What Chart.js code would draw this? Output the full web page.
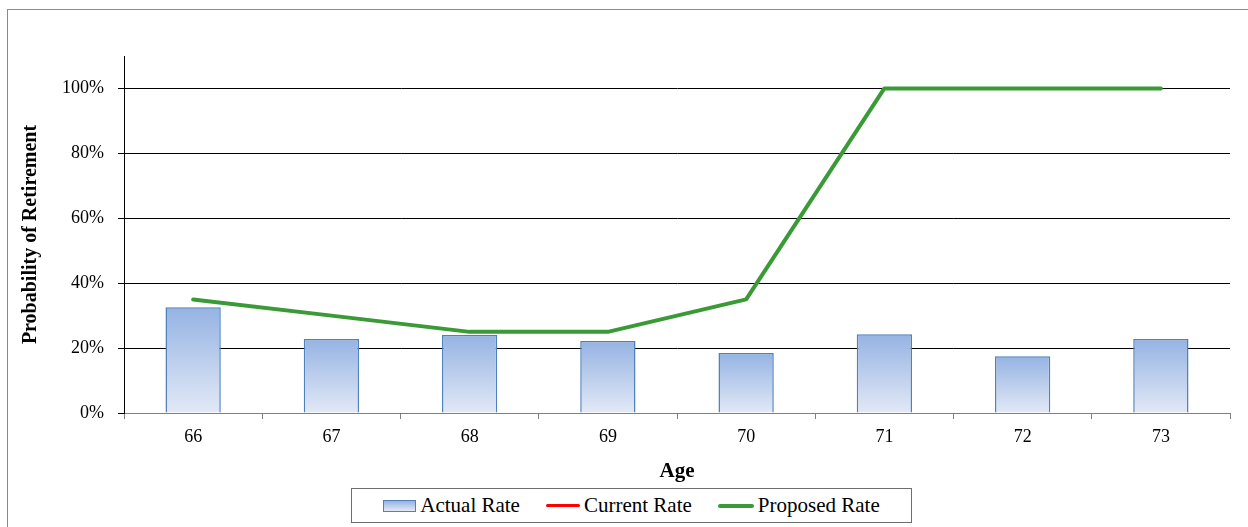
<!DOCTYPE html>
<html>
<head>
<meta charset="utf-8">
<script src="https://cdn.jsdelivr.net/npm/chart.js@4"></script>
<style>
  html, body { margin: 0; padding: 0; background: #fff; overflow: hidden; }
  #wrap { position: relative; width: 1248px; height: 527px; }
  #frame {
    position: absolute; left: 7px; top: 9px; width: 1300px; height: 600px;
    border: 1px solid #8a8a8a; box-sizing: border-box;
  }
  #chart { position: absolute; left: 0; top: 0; }
  #legend {
    position: absolute; left: 351px; top: 488px; width: 561px; height: 35px;
    border: 1.5px solid #6e6e6e; box-sizing: border-box; background: #fff;
    display: flex; align-items: center; justify-content: center;
    font-family: "Liberation Serif", "Times New Roman", serif; font-size: 21px; color: #000;
  }
  .item { display: flex; align-items: center; margin: 0 13px; }
  .item span { margin-left: 4px; }
  .swatch-bar {
    width: 31px; height: 10px; border: 1px solid #4f81bd;
    background: linear-gradient(#95b3e3, #e2e9f6);
  }
  .swatch-line { width: 34px; border-radius: 2px; }
</style>
</head>
<body>
<div id="wrap">
  <div id="frame"></div>
  <canvas id="chart" width="1248" height="527"></canvas>
  <div id="legend"></div>
</div>
<script>
// ── Data ──────────────────────────────────────────────────────────────────
const ages         = ['66', '67', '68', '69', '70', '71', '72', '73'];
const actualRate   = [0.326, 0.228, 0.240, 0.222, 0.185, 0.243, 0.175, 0.228];
const currentRate  = [null, null, null, null, null, null, null, null];
const proposedRate = [0.35, 0.30, 0.25, 0.25, 0.35, 1.00, 1.00, 1.00];
const yTicks       = [0, 0.2, 0.4, 0.6, 0.8, 1.0];

const FONT = '"Liberation Serif", "Times New Roman", serif';
const BAR_TOP    = '#95b3e3';
const BAR_BOTTOM = '#e2e9f6';
const BAR_BORDER = '#4f81bd';
const RED   = '#ff0000';
const GREEN = '#3a9a36';

// per-bar vertical gradient, dark at the top of each bar
function barFill(ctx) {
  const chart = ctx.chart;
  const y = chart.scales && chart.scales.y;
  if (!chart.chartArea || !y || ctx.raw == null) return '#b8cbea';
  const top = y.getPixelForValue(ctx.raw);
  const bottom = y.getPixelForValue(0);
  const g = chart.ctx.createLinearGradient(0, top, 0, bottom);
  g.addColorStop(0, BAR_TOP);
  g.addColorStop(1, BAR_BOTTOM);
  return g;
}

new Chart(document.getElementById('chart').getContext('2d'), {
  type: 'bar',
  data: {
    labels: ages,
    datasets: [
      {
        type: 'line',
        label: 'Proposed Rate',
        data: proposedRate,
        borderColor: GREEN,
        borderWidth: 4,
        borderCapStyle: 'round',
        borderJoinStyle: 'round',
        pointRadius: 0,
        fill: false,
        tension: 0,
        order: 0,
      },
      {
        type: 'line',
        label: 'Current Rate',
        data: currentRate,
        borderColor: RED,
        borderWidth: 3,
        pointRadius: 0,
        fill: false,
        order: 1,
      },
      {
        label: 'Actual Rate',
        data: actualRate,
        backgroundColor: barFill,
        borderColor: BAR_BORDER,
        borderWidth: 1.5,
        barPercentage: 0.4,
        categoryPercentage: 1,
        order: 2,
      },
    ],
  },
  options: {
    responsive: false,
    animation: false,
    layout: { padding: { top: 56, right: 18, bottom: 40, left: 0 } },
    plugins: {
      legend: { display: false },
      tooltip: { enabled: false },
    },
    scales: {
      x: {
        offset: true,
        grid: {
          offset: true,
          drawOnChartArea: false,
          drawTicks: true,
          tickLength: 6,
          color: '#808080',
        },
        border: { color: '#808080', width: 1 },
        ticks: { color: '#000', padding: 7, font: { family: FONT, size: 18 } },
        title: {
          display: true,
          text: 'Age',
          color: '#000',
          font: { family: FONT, size: 21, weight: 'bold' },
          padding: { top: 0, bottom: 3 },
        },
        afterFit: scale => { scale.height = 74; },
      },
      y: {
        min: 0,
        max: 1.1,
        afterBuildTicks: scale => { scale.ticks = yTicks.map(v => ({ value: v })); },
        ticks: {
          includeBounds: false,
          color: '#000',
          padding: 14,
          font: { family: FONT, size: 18 },
          callback: v => Math.round(v * 100) + '%',
        },
        grid: { color: '#000', lineWidth: 1, tickLength: 6, drawTicks: true },
        border: { color: '#000', width: 1 },
        title: {
          display: true,
          text: 'Probability of Retirement',
          color: '#000',
          font: { family: FONT, size: 20, weight: 'bold' },
          padding: { top: 19, bottom: 0 },
        },
        afterFit: scale => { scale.width = 124; },
      },
    },
  },
});

// ── Legend (same order as the reference) ─────────────────────────────────
const legendItems = [
  { label: 'Actual Rate',   html: '<div class="swatch-bar"></div>' },
  { label: 'Current Rate',  html: `<div class="swatch-line" style="height:3px;background:${RED}"></div>` },
  { label: 'Proposed Rate', html: `<div class="swatch-line" style="height:4px;background:${GREEN};width:36px"></div>` },
];
document.getElementById('legend').innerHTML = legendItems
  .map(it => `<div class="item">${it.html}<span>${it.label}</span></div>`)
  .join('');
</script>
</body>
</html>
